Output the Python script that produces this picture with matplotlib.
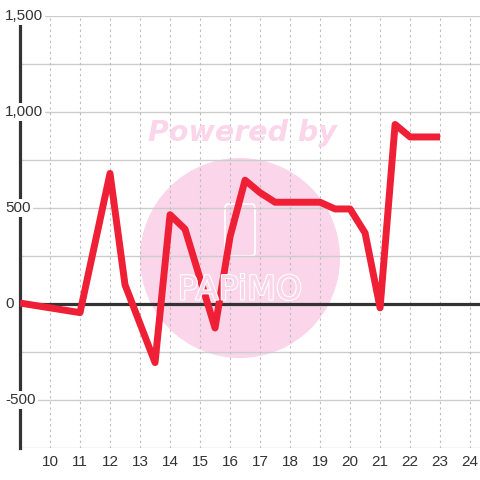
import numpy as np
import matplotlib
matplotlib.use("Agg")
import matplotlib.pyplot as plt
from matplotlib.patches import Circle, FancyBboxPatch
import matplotlib.patheffects as pe

# values
hours = [9, 11, 12, 12.5, 13.5, 14, 14.5, 15.5, 16, 16.5, 17, 17.5, 19, 19.5, 20, 20.5, 21, 21.5, 22, 23]
values = [5, -45, 680, 100, -305, 465, 390, -125, 350, 645, 580, 530, 530, 495, 495, 370, -20, 935, 870, 870]
xticks = list(range(10, 25))
yticks = [-500, 0, 500, 1000, 1500]

fig = plt.figure(figsize=(4.8, 4.8), dpi=100)
ax = fig.add_axes([20 / 480, 32 / 480, 460 / 480, 432 / 480])

ax.set_xlim(9, 24.33)
ax.set_ylim(-750, 1500)

# watermark behind the grid
ax.add_patch(Circle((240 / 480, 1 - 258 / 480), 100 / 480, transform=fig.transFigure,
                    facecolor="#fbd5ea", edgecolor="none", zorder=0.1))
ax.add_patch(FancyBboxPatch((225 / 480, 1 - 256 / 480), 30 / 480, 52 / 480,
                            boxstyle="round,pad=0,rounding_size=0.008", transform=fig.transFigure,
                            facecolor="none", edgecolor="white", linewidth=1.3, zorder=0.2))
fig.text(240 / 480, 1 - 290 / 480, "PAPiMO", color="#fbd5ea", fontsize=24, ha="center", va="center",
         family="DejaVu Sans", path_effects=[pe.withStroke(linewidth=1.6, foreground="white")], zorder=0.3)
fig.text(242 / 480, 1 - 133 / 480, "Powered by", color="#fbd5ea", fontsize=20.5, ha="center", va="center",
         family="DejaVu Sans", weight="bold", style="italic")

# grid
for y in np.arange(-750, 1501, 250):
    if y != 0:
        ax.axhline(y, color="#cccccc", linewidth=1, zorder=0.5)
for x in xticks:
    ax.axvline(x, color="#bbbbbb", linewidth=0.8, linestyle=(0, (2, 3)), zorder=0.5)
ax.axhline(0, color="#333333", linewidth=2.3, zorder=1)
ax.axvline(9, color="#333333", linewidth=2.3, zorder=1, clip_on=False)

ax.plot(hours, values, color="#ef2036", linewidth=5, solid_joinstyle="round", solid_capstyle="butt", zorder=3)

for s in ax.spines.values():
    s.set_visible(False)
ax.set_xticks([])
ax.set_yticks([])

for x in xticks:
    ax.text(x, -14 / 432, str(x), transform=ax.get_xaxis_transform(), ha="center", va="center",
            fontsize=11, color="#333333", family="Liberation Sans")

for y in yticks:
    ax.text(5 / 480, y, "{:,}".format(y), transform=matplotlib.transforms.blended_transform_factory(fig.transFigure, ax.transData),
            ha="left", va="center", fontsize=11, color="#333333", family="Liberation Sans",
            bbox=dict(facecolor="white", edgecolor="none", pad=1.5), zorder=4)

fig.savefig("out.png", dpi=100)
